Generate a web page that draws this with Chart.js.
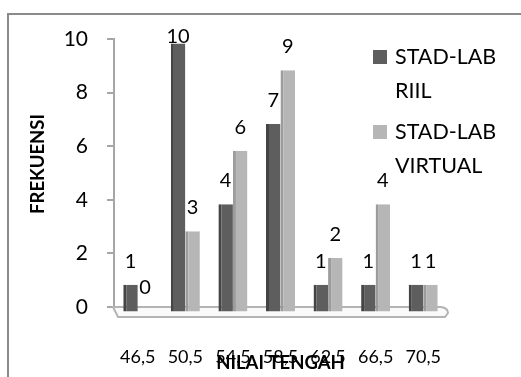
<!DOCTYPE html>
<html>
<head>
<meta charset="utf-8">
<script src="https://cdn.jsdelivr.net/npm/chart.js@4.4.0/dist/chart.umd.min.js"></script>
<style>
  html, body { margin: 0; padding: 0; background: #fff; }
  #wrap { position: relative; width: 521px; height: 377px; }
</style>
</head>
<body>
<div id="wrap"><canvas id="c" width="521" height="377"></canvas></div>
<script>
// Frequency per class midpoint for the two groups
const categories = ['46,5', '50,5', '54,5', '58,5', '62,5', '66,5', '70,5'];
const riil = [1, 10, 4, 7, 1, 1, 1];
const virtualLab = [0, 3, 6, 9, 2, 4, 1];
const seriesLabels = [['STAD-LAB', 'RIIL'], ['STAD-LAB', 'VIRTUAL']];
const yTitle = 'FREKUENSI';
const xTitle = 'NILAI TENGAH';

const FONT = 'Lato';
const darkFill = '#5e5e5e', darkEdge = '#444444';
const lightFill = '#b6b6b6', lightEdge = '#9c9c9c';

// Outer frame (left and top edges)
const framePlugin = {
  id: 'frame',
  beforeDraw(chart) {
    const ctx = chart.ctx;
    ctx.save();
    ctx.fillStyle = '#fff';
    ctx.fillRect(0, 0, chart.width, chart.height);
    ctx.strokeStyle = '#8a8a8a';
    ctx.lineWidth = 2;
    ctx.beginPath();
    ctx.moveTo(8, chart.height);
    ctx.lineTo(8, 14);
    ctx.lineTo(chart.width, 14);
    ctx.stroke();
    ctx.restore();
  }
};

// Flat floor under the bars
const floorPlugin = {
  id: 'floor',
  beforeDatasetsDraw(chart) {
    const { ctx, chartArea: a, scales } = chart;
    const y0 = scales.y.getPixelForValue(0);
    ctx.save();
    ctx.strokeStyle = '#b4b4b4';
    ctx.fillStyle = '#fafafa';
    ctx.lineWidth = 2;
    ctx.beginPath();
    ctx.moveTo(a.left - 1, y0);
    ctx.lineTo(a.right - 6, y0);
    ctx.quadraticCurveTo(a.right + 1, y0 + 1, a.right + 1, y0 + 6);
    ctx.lineTo(a.right - 2, y0 + 10);
    ctx.lineTo(a.left + 4, y0 + 10);
    ctx.closePath();
    ctx.fill();
    ctx.stroke();
    ctx.restore();
  }
};

// Value labels above each bar
const valueLabelPlugin = {
  id: 'valueLabels',
  afterDatasetsDraw(chart) {
    const { ctx, chartArea: a, scales } = chart;
    ctx.save();
    ctx.font = '20px ' + FONT;
    ctx.fillStyle = '#000';
    ctx.textAlign = 'center';
    ctx.textBaseline = 'middle';
    chart.data.datasets.forEach((ds, di) => {
      const meta = chart.getDatasetMeta(di);
      meta.data.forEach((el, i) => {
        const v = ds.data[i];
        const y = Math.max(a.top - 2, scales.y.getPixelForValue(v) - 19);
        ctx.fillText(String(v), el.x, y);
      });
    });
    ctx.restore();
  }
};

// Legend with two-line entries, y-axis title
const overlayPlugin = {
  id: 'overlay',
  afterDraw(chart) {
    const ctx = chart.ctx;
    ctx.save();
    ctx.font = '21.5px ' + FONT;
    ctx.fillStyle = '#000';
    ctx.textBaseline = 'middle';
    ctx.textAlign = 'left';
    const itemTops = [57, 132];
    chart.data.datasets.forEach((ds, di) => {
      const yc = itemTops[di];
      ctx.fillStyle = ds.legendColor;
      ctx.fillRect(373, yc - 7, 14, 14);
      ctx.fillStyle = '#000';
      seriesLabels[di].forEach((line, li) => {
        ctx.fillText(line, 395, yc + li * 34);
      });
    });
    ctx.translate(38, 164);
    ctx.rotate(-Math.PI / 2);
    ctx.font = 'bold 18.5px ' + FONT;
    ctx.textAlign = 'center';
    ctx.fillText(yTitle, 0, 0);
    ctx.restore();
  }
};

new Chart(document.getElementById('c'), {
  type: 'bar',
  data: {
    labels: categories,
    datasets: [
      {
        label: seriesLabels[0].join(' '),
        data: riil,
        yAxisID: 'yb',
        backgroundColor: darkFill,
        borderColor: darkEdge,
        borderWidth: { left: 3, right: 0, top: 0, bottom: 0 },
        borderSkipped: false,
        legendColor: darkFill,
        clip: false
      },
      {
        label: seriesLabels[1].join(' '),
        data: virtualLab,
        yAxisID: 'yb',
        backgroundColor: lightFill,
        borderColor: lightEdge,
        borderWidth: { left: 3, right: 0, top: 0, bottom: 0 },
        borderSkipped: false,
        legendColor: lightFill,
        clip: false
      }
    ]
  },
  options: {
    responsive: false,
    animation: false,
    devicePixelRatio: 1,
    layout: { padding: { left: 0, top: 39, right: 74, bottom: 0 } },
    datasets: { bar: { categoryPercentage: 0.61, barPercentage: 1.0 } },
    plugins: { legend: { display: false }, tooltip: { enabled: false } },
    scales: {
      x: {
        grid: { display: false, drawTicks: false },
        border: { display: false },
        ticks: { color: '#000', font: { family: FONT, size: 18 }, padding: 39, maxRotation: 0, autoSkip: false },
        title: { display: true, text: xTitle, color: '#000', font: { family: FONT, size: 18.5, weight: 'bold' }, padding: { top: 0, bottom: 3 } },
        afterFit(scale) { scale.height = 70; }
      },
      y: {
        min: 0, max: 10,
        ticks: { stepSize: 2, color: '#000', font: { family: FONT, size: 21 }, padding: 19 },
        grid: { drawOnChartArea: false, drawTicks: true, tickLength: 7, color: '#a6a6a6', lineWidth: 2 },
        border: { display: true, color: '#a6a6a6', width: 2 },
        afterFit(scale) { scale.width = 114; }
      },
      // Bars sit slightly lower than the axis, like a shallow 3-D floor
      yb: {
        display: false,
        min: 0.17, max: 10.17
      }
    }
  },
  plugins: [framePlugin, floorPlugin, valueLabelPlugin, overlayPlugin]
});
</script>
</body>
</html>
